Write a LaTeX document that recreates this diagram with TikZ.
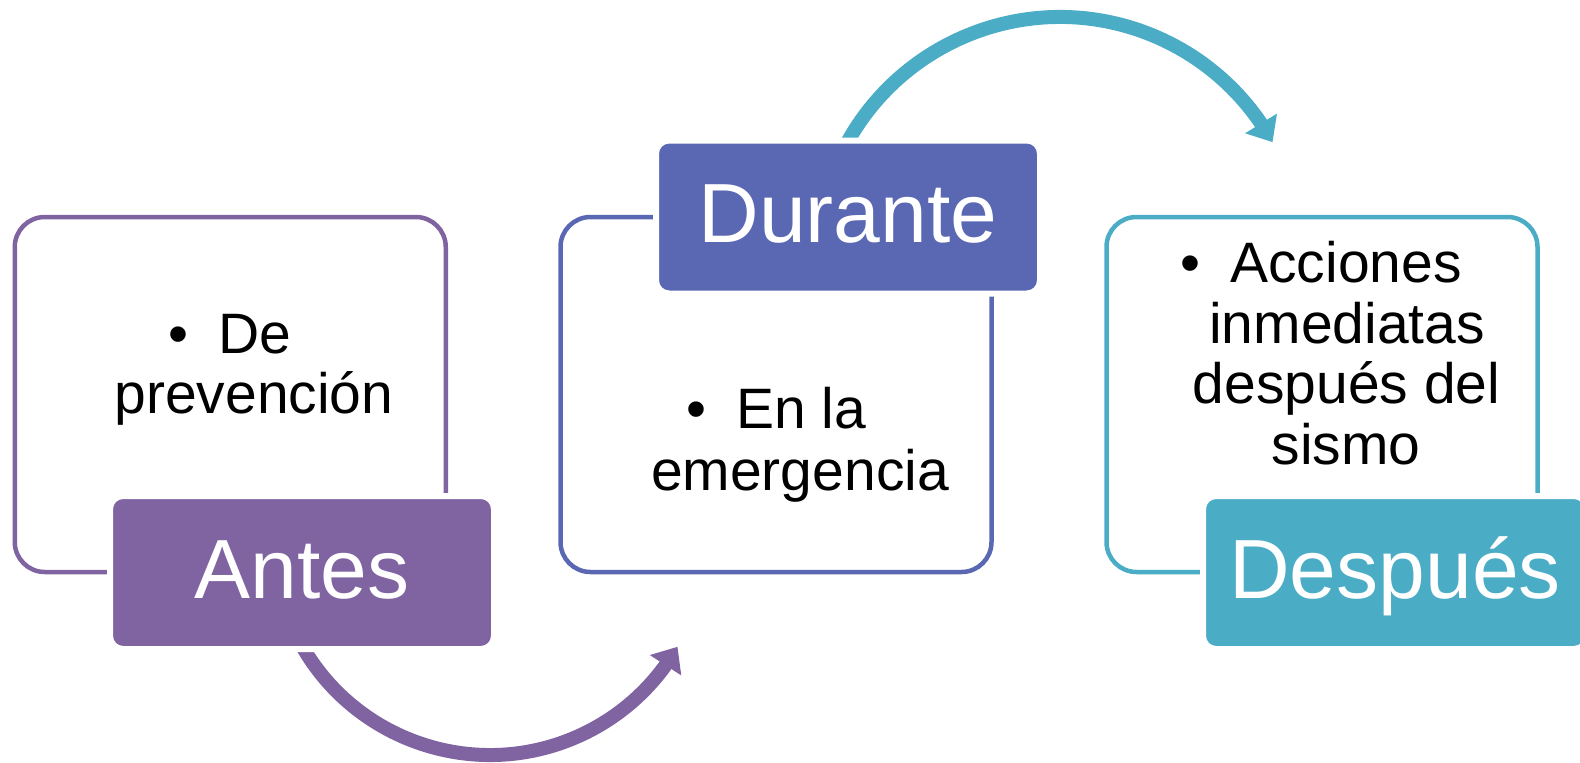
\documentclass[tikz,border=0pt]{standalone}
\usepackage{fontspec}
\setmainfont{Liberation Sans}
\usetikzlibrary{arrows.meta,bending}
\definecolor{cpurp}{RGB}{128,100,162}
\definecolor{cblue}{RGB}{90,103,178}
\definecolor{ccyan}{RGB}{75,172,198}
\newcommand\mybullet{\makebox[0pt][r]{\textbullet\hspace{30pt}}}
\begin{document}
\begin{tikzpicture}[x=1pt,y=-1pt,
 outerbox/.style={draw=#1, line width=4.5pt, rounded corners=30pt, minimum width=431pt, minimum height=355pt, inner sep=0pt},
 titlebox/.style={fill=#1, draw=white, line width=6pt, rounded corners=13pt, minimum width=384pt, minimum height=153pt, inner sep=0pt, text=white, font=\fontsize{84}{100}\selectfont, text height=61pt, text depth=10pt},
 bodytext/.style={anchor=base, inner sep=0pt, font=\fontsize{57}{61}\selectfont},
 cycarrow/.style={line width=14pt, -{Triangle[length=22pt,width=36pt]}, draw=#1}
]
\useasboundingbox (0,0) rectangle (1580,763);

% outer frames
\node[outerbox=cpurp] (o1) at (230.25,394.5) {};
\node[outerbox=cblue] (o2) at (776,394.5) {};
\node[outerbox=ccyan] (o3) at (1322,394.5) {};

% cycle arrows
\coordinate (c1) at (490,538.5);
\coordinate (c2) at (1060,260);
\draw[cycarrow=cpurp] (c1) ++(155:216.5) arc[start angle=155, end angle=30, radius=216.5];
\draw[cycarrow=ccyan] (c2) ++(200:243) arc[start angle=200, end angle=331, radius=243];

% title boxes
\node[titlebox=cpurp] (antes) at (302,572.5) {Antes};
\node[titlebox=cblue] (durante) at (848,217) {Durante};
\node[titlebox=ccyan] (despues) at (1395,572.5) {Después};

% body texts
\node[bodytext] (a1) at (255,353) {\mybullet De};
\node[bodytext] (a2) at (254,413) {prevención};
\node[bodytext] (b1) at (801,428) {\mybullet En la};
\node[bodytext] (b2) at (800,490) {emergencia};
\node[bodytext] (d1) at (1346,282) {\mybullet Acciones};
\node[bodytext] (d2) at (1347,343) {inmediatas};
\node[bodytext] (d3) at (1346.5,403) {después del};
\node[bodytext] (d4) at (1346,464) {sismo};
\end{tikzpicture}
\end{document}
